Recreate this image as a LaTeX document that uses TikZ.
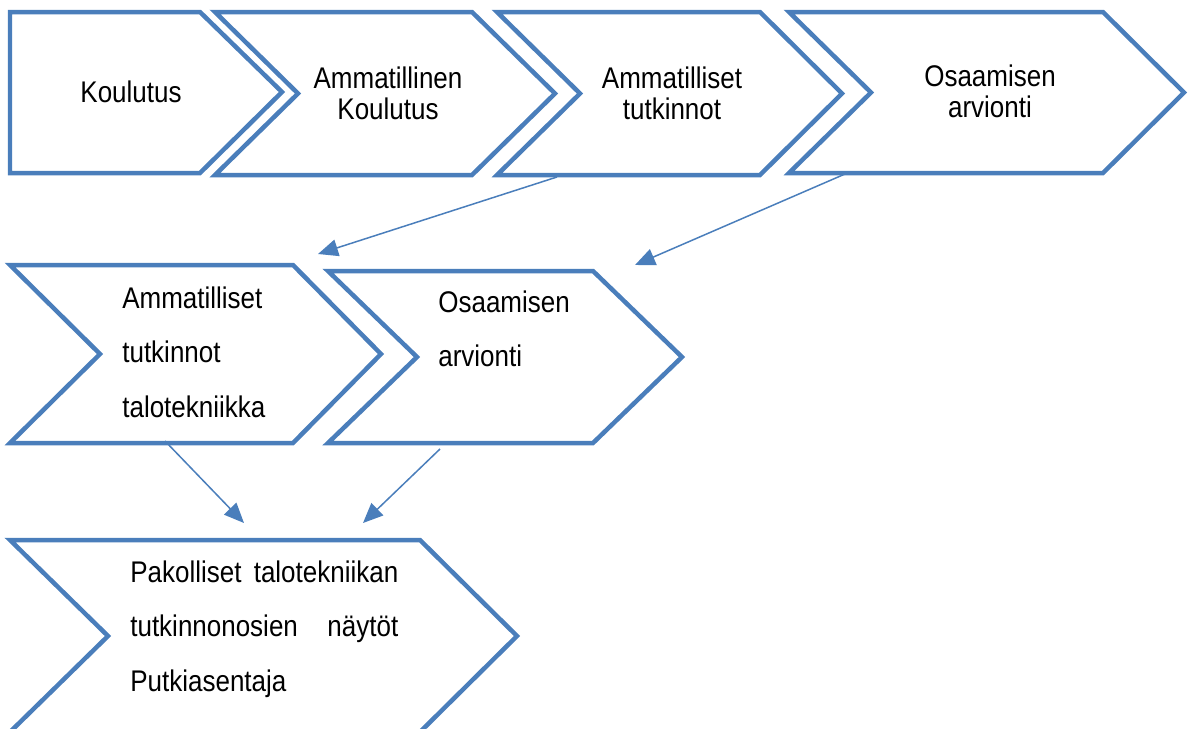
\documentclass[tikz,border=0pt]{standalone}
\usepackage{fontspec}
\setmainfont{Liberation Sans}[FakeStretch=0.87]
\usetikzlibrary{arrows.meta}
\definecolor{chevblue}{RGB}{74,126,187}

\begin{document}
\begin{tikzpicture}[x=0.02cm,y=-0.02cm,
    chevron/.style={draw=chevblue,line width=0.09cm},
    boxtext/.style={inner sep=0pt,font=\fontsize{17}{17.6}\selectfont,align=center},
    listtext/.style={inner sep=0pt,font=\fontsize{17}{31}\selectfont,align=left,anchor=west},
    flow/.style={chevblue,line width=0.03cm,-{Triangle[length=0.4cm,width=0.34cm]}}]
    \useasboundingbox (0,0) rectangle (1188,728);
    % top row
    \draw[chevron] (10,12)--(200,12)--(282,92)--(200,173)--(10,173)--cycle;
    \draw[chevron] (215,12)--(472,12)--(555,93.5)--(472,175)--(215,175)--(298,93.5)--cycle;
    \draw[chevron] (497,12)--(760,12)--(842,93.5)--(760,175)--(497,175)--(580,93.5)--cycle;
    \draw[chevron] (789,12)--(1103,12)--(1184,92.5)--(1103,173)--(789,173)--(871,92.5)--cycle;
    \node[boxtext] (koulutus) at (131,92) {Koulutus};
    \node[boxtext] (amkoul) at (388,93) {Ammatillinen\\Koulutus};
    \node[boxtext] (amtutk) at (672,93) {Ammatilliset\\tutkinnot};
    \node[boxtext] (osarv) at (990,91) {Osaamisen\\arvionti};
    % middle row
    \draw[chevron] (10,265)--(293,265)--(381,354)--(293,443)--(10,443)--(100,354)--cycle;
    \draw[chevron] (328,271)--(593,271)--(682,357)--(593,443)--(328,443)--(417,357)--cycle;
    \node[listtext] (talotutk) at (122,352) {Ammatilliset\\tutkinnot\\talotekniikka};
    \node[listtext] (talarv) at (438,329) {Osaamisen\\arvionti};
    % bottom row
    \draw[chevron] (10,540)--(420,540)--(517,636)--(420,732)--(10,732)--(108,636)--cycle;
    \node[listtext,text width=5.36cm] (naytot) at (130,629)
        {\leavevmode\hbox to \linewidth{Pakolliset\hfil talotekniikan}\\
         \leavevmode\hbox to \linewidth{tutkinnonosien\hfil näytöt}\\
         Putkiasentaja};
    % connectors
    \coordinate (amtutkOut) at (557,177);
    \coordinate (talotutkIn) at (318,254);
    \coordinate (osarvOut) at (845,174);
    \coordinate (talarvIn) at (635,265);
    \coordinate (talotutkOut) at (165,441);
    \coordinate (talarvOut) at (440,449);
    \coordinate (naytotInA) at (244,523);
    \coordinate (naytotInB) at (363,523);
    \draw[flow] (amtutkOut) -- (talotutkIn);
    \draw[flow] (osarvOut) -- (talarvIn);
    \draw[flow] (talotutkOut) -- (naytotInA);
    \draw[flow] (talarvOut) -- (naytotInB);
\end{tikzpicture}
\end{document}
